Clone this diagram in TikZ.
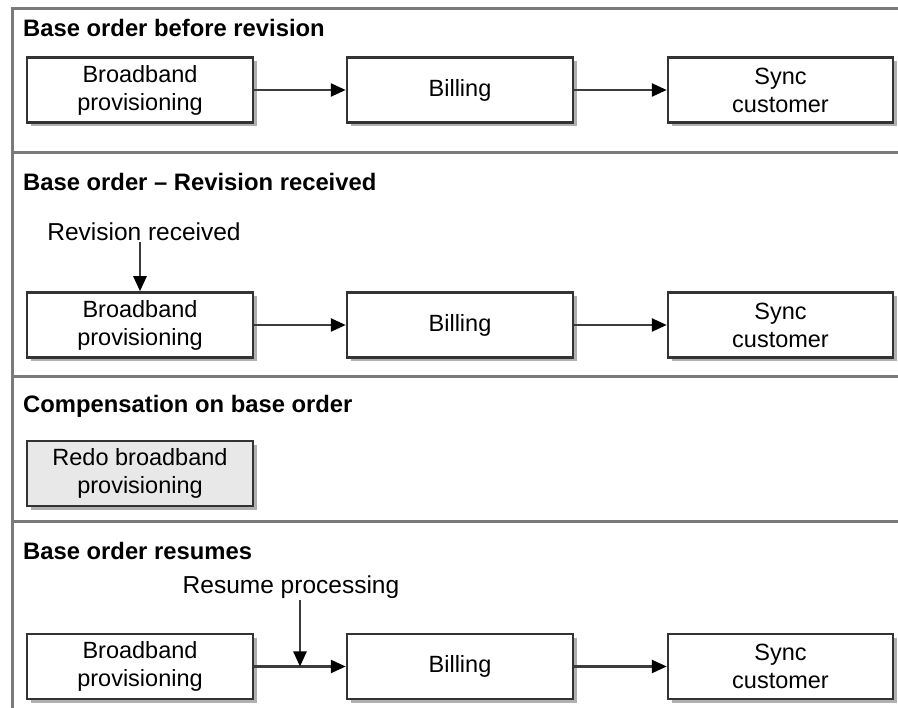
\documentclass[tikz,border=0pt]{standalone}
\usepackage{fontspec}
\setmainfont{Liberation Sans}
\usetikzlibrary{arrows.meta,shadows}
\definecolor{framegray}{HTML}{7A7A7A}
\definecolor{boxedge}{HTML}{333333}
\definecolor{arrowgray}{HTML}{3C3C3C}
\definecolor{grayfill}{HTML}{E8E8E8}
\definecolor{shadowgray}{HTML}{B0B0B0}
\begin{document}
\begin{tikzpicture}[x=1pt,y=-1pt,
  frameline/.style={draw=framegray, line width=3pt},
  procbox/.style={draw=boxedge, line width=2.5pt, fill=white,
    minimum width=226pt, minimum height=65pt, inner sep=0pt,
    align=center, font=\fontsize{23.5}{28}\selectfont,
    drop shadow={shadow xshift=4pt, shadow yshift=-4pt, fill=shadowgray, opacity=1}},
  graybox/.style={procbox, fill=grayfill},
  title/.style={anchor=west, inner sep=0pt, font=\fontsize{23.8}{28}\selectfont\bfseries},
  evlabel/.style={inner sep=1pt, font=\fontsize{24.5}{28}\selectfont},
  conn/.style={draw=arrowgray, line width=2.5pt, -{Triangle[length=15pt,width=13pt,color=black]}}
  ]
\useasboundingbox (0,0) rectangle (898,708);
% frame and separators
\draw[frameline] (12,708) -- (12,9) -- (898,9);
\draw[frameline] (12,152.5) -- (898,152.5);
\draw[frameline] (12,377) -- (898,377);
\draw[frameline] (12,521.7) -- (898,521.7);
% titles
\node[title] (t1) at (23,28) {Base order before revision};
\node[title] (t2) at (23,182) {Base order \textendash{} Revision received};
\node[title] (t3) at (23,406) {Compensation on base order};
\node[title] (t4) at (23,551) {Base order resumes};
% row 1
\node[procbox] (a1) at (140,90) {Broadband\\provisioning};
\node[procbox] (b1) at (460,90) {Billing};
\node[procbox, minimum width=225pt] (c1) at (780.5,90) {Sync\\customer};
\draw[conn] (a1) -- (b1);
\draw[conn] (b1) -- (c1);
% row 2
\node[evlabel] (rr) at (144,232) {Revision received};
\node[procbox] (a2) at (140,325) {Broadband\\provisioning};
\node[procbox] (b2) at (460,325) {Billing};
\node[procbox, minimum width=225pt] (c2) at (780.5,325) {Sync\\customer};
\draw[conn] (a2) -- (b2);
\draw[conn] (b2) -- (c2);
\draw[conn] (a2.north |- rr.south) -- (a2.north);
% row 3
\node[graybox] (g) at (140,473.5) {Redo broadband\\provisioning};
% row 4
\node[evlabel] (rp) at (291,587) {Resume processing};
\node[procbox] (a4) at (140,666.5) {Broadband\\provisioning};
\node[procbox] (b4) at (460,666.5) {Billing};
\node[procbox, minimum width=225pt] (c4) at (780.5,666.5) {Sync\\customer};
\draw[conn] (a4) -- (b4);
\draw[conn] (b4) -- (c4);
\coordinate (m) at (300,666.5);
\draw[conn] (m |- rp.south) -- (m);
\end{tikzpicture}
\end{document}
